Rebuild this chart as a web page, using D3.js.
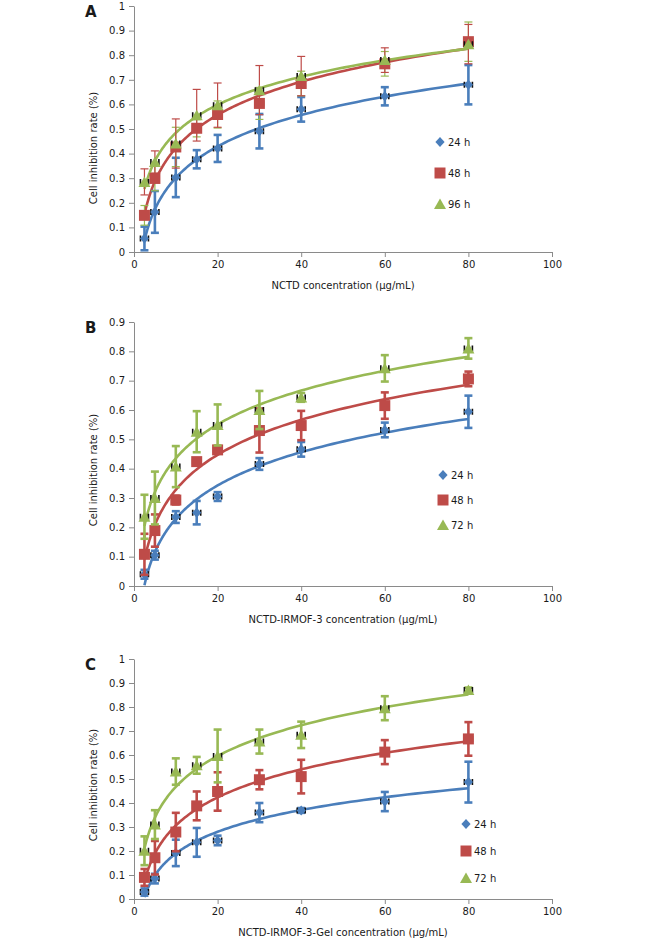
<!DOCTYPE html>
<html lang="en">
<head>
<meta charset="utf-8">
<title>Cell inhibition rate</title>
<script src="https://d3js.org/d3.v7.min.js"></script>
<style>
body { margin: 0; background: #fff; }
text { font-family: "DejaVu Sans", Verdana, sans-serif; fill: #1a1a1a; }
</style>
</head>
<body>
<svg width="661" height="941"></svg>
<script>
// concentrations (ug/mL)
var conc = [2.5, 5, 10, 15, 20, 30, 40, 60, 80];
var xTicks = [0, 20, 40, 60, 80, 100];
var yTicksA = [0, 0.1, 0.2, 0.3, 0.4, 0.5, 0.6, 0.7, 0.8, 0.9, 1];
var yTicksB = [0, 0.1, 0.2, 0.3, 0.4, 0.5, 0.6, 0.7, 0.8, 0.9];
var yTicksC = [0, 0.1, 0.2, 0.3, 0.4, 0.5, 0.6, 0.7, 0.8, 0.9, 1];

// panel A - NCTD
var a24 = [0.055, 0.163, 0.303, 0.377, 0.421, 0.491, 0.58, 0.633, 0.68];
var a24err = [0.048, 0.085, 0.08, 0.037, 0.055, 0.07, 0.05, 0.037, 0.08];
var a48 = [0.149, 0.299, 0.427, 0.503, 0.559, 0.604, 0.685, 0.765, 0.855];
var a48err = [0.04, 0.05, 0.08, 0.035, 0.055, 0.065, 0.05, 0.05, 0.08];
var a96 = [0.285, 0.366, 0.441, 0.556, 0.597, 0.658, 0.715, 0.78, 0.845];
var a96err = [0.053, 0.045, 0.1, 0.105, 0.09, 0.1, 0.08, 0.05, 0.08];

// panel B - NCTD-IRMOF-3
var b24 = [0.04, 0.105, 0.235, 0.25, 0.305, 0.416, 0.466, 0.532, 0.594];
var b24err = [0.015, 0.015, 0.02, 0.04, 0.015, 0.02, 0.025, 0.025, 0.055];
var b48 = [0.108, 0.189, 0.293, 0.424, 0.464, 0.53, 0.547, 0.615, 0.706];
var b48err = [0.07, 0.055, 0.015, 0.01, 0.01, 0.075, 0.05, 0.045, 0.025];
var b72 = [0.236, 0.30, 0.407, 0.526, 0.549, 0.60, 0.643, 0.742, 0.81];
var b72err = [0.075, 0.09, 0.07, 0.07, 0.07, 0.065, 0.015, 0.045, 0.035];

// panel C - NCTD-IRMOF-3-Gel
var c24 = [0.029, 0.085, 0.192, 0.236, 0.244, 0.36, 0.369, 0.406, 0.487];
var c24err = [0.015, 0.02, 0.055, 0.06, 0.02, 0.04, 0.01, 0.04, 0.085];
var c48 = [0.09, 0.172, 0.279, 0.388, 0.448, 0.497, 0.51, 0.612, 0.667];
var c48err = [0.035, 0.07, 0.08, 0.06, 0.08, 0.04, 0.07, 0.05, 0.07];
var c72 = [0.201, 0.31, 0.531, 0.557, 0.596, 0.656, 0.684, 0.795, 0.871];
var c72err = [0.06, 0.06, 0.055, 0.035, 0.11, 0.05, 0.055, 0.05, 0.01];

var blue = "#4a7ebb", red = "#be4b48", green = "#98b954";

var panels = [
  { letter: "A", xTitle: "NCTD concentration (\u03bcg/mL)", yTicks: yTicksA,
    top: 6, bottom: 252, legend: [440, 142, 31], yTitleY: 148,
    series: [
      { name: "24 h", vals: a24, err: a24err, color: blue, errColor: blue, errW: 2.6, shape: "diamond" },
      { name: "48 h", vals: a48, err: a48err, color: red, errColor: green, errW: 1.2, shape: "square" },
      { name: "96 h", vals: a96, err: a96err, color: green, errColor: red, errW: 1.2, shape: "triangle" }
    ] },
  { letter: "B", xTitle: "NCTD-IRMOF-3 concentration (\u03bcg/mL)", yTicks: yTicksB,
    top: 322, bottom: 586, legend: [443, 475, 25], yTitleY: 470,
    series: [
      { name: "24 h", vals: b24, err: b24err, color: blue, errColor: blue, errW: 2.6, shape: "diamond" },
      { name: "48 h", vals: b48, err: b48err, color: red, errColor: red, errW: 2.6, shape: "square" },
      { name: "72 h", vals: b72, err: b72err, color: green, errColor: green, errW: 2.6, shape: "triangle" }
    ] },
  { letter: "C", xTitle: "NCTD-IRMOF-3-Gel concentration (\u03bcg/mL)", yTicks: yTicksC,
    top: 659, bottom: 899, legend: [466, 824, 27], yTitleY: 785,
    series: [
      { name: "24 h", vals: c24, err: c24err, color: blue, errColor: blue, errW: 2.6, shape: "diamond" },
      { name: "48 h", vals: c48, err: c48err, color: red, errColor: red, errW: 2.6, shape: "square" },
      { name: "72 h", vals: c72, err: c72err, color: green, errColor: green, errW: 2.6, shape: "triangle" }
    ] }
];

var shapes = {
  diamond: "M0,-5L4.6,0L0,5L-4.6,0Z",
  square: "M-5.5,-5.5h11v11h-11Z",
  triangle: "M0,-5.5L6,5L-6,5Z"
};

// least squares fit of y = a*ln(x) + b (the excel log trendline)
function logFit(xs, ys) {
  var lx = xs.map(Math.log);
  var mx = d3.mean(lx), my = d3.mean(ys);
  var sxy = d3.sum(lx, (d, i) => (d - mx) * (ys[i] - my));
  var sxx = d3.sum(lx, d => (d - mx) * (d - mx));
  var a = sxy / sxx;
  return x => a * Math.log(x) + my - a * mx;
}

var svg = d3.select("svg");
var x = d3.scaleLinear().domain([0, 100]).range([134, 552]);
var axisColor = "#8a8a8a";

panels.forEach(function(p, pi) {
  var yMax = d3.max(p.yTicks);
  var y = d3.scaleLinear().domain([0, yMax]).range([p.bottom, p.top]);
  var g = svg.append("g");

  g.append("clipPath").attr("id", "clip" + pi)
    .append("rect")
    .attr("x", x(0)).attr("y", p.top)
    .attr("width", x(100) - x(0)).attr("height", p.bottom - p.top);

  var yAxis = g.append("g")
    .attr("transform", "translate(" + x(0) + ",0)")
    .call(d3.axisLeft(y).tickValues(p.yTicks).tickSize(5).tickSizeOuter(0).tickPadding(4)
      .tickFormat(d3.format(".1~f")));
  var xAxis = g.append("g")
    .attr("transform", "translate(0," + p.bottom + ")")
    .call(d3.axisBottom(x).tickValues(xTicks).tickSize(5).tickSizeOuter(0).tickPadding(4));
  [xAxis, yAxis].forEach(function(ax) {
    ax.selectAll("path, line").attr("stroke", axisColor);
    ax.selectAll("text").attr("font-size", 10).attr("font-family", "DejaVu Sans").attr("fill", "#1a1a1a");
  });

  g.append("text")
    .attr("x", 343).attr("y", p.bottom + 37)
    .attr("text-anchor", "middle").attr("font-size", 10)
    .text(p.xTitle);

  g.append("text")
    .attr("transform", "translate(93," + p.yTitleY + ") rotate(-90)")
    .attr("text-anchor", "middle").attr("dy", "0.35em").attr("font-size", 10)
    .text("Cell inhibition rate (%)");

  g.append("text")
    .attr("x", 85).attr("y", p.top + 11)
    .attr("font-size", 15).attr("font-weight", "bold")
    .text(p.letter);

  var line = d3.line().x(d => x(d[0])).y(d => y(d[1]));
  var xs = d3.range(0, 121).map(i => conc[0] * Math.pow(conc[conc.length - 1] / conc[0], i / 120));

  // trend curves
  p.series.forEach(function(s) {
    var f = logFit(conc, s.vals);
    g.append("path")
      .datum(xs.map(v => [v, f(v)]))
      .attr("clip-path", "url(#clip" + pi + ")")
      .attr("fill", "none")
      .attr("stroke", s.color)
      .attr("stroke-width", 2.6)
      .attr("d", line);
  });

  p.series.forEach(function(s) {
    var pts = conc.map((c, i) => ({ c: c, v: s.vals[i], e: s.err[i] }));
    var sg = g.append("g");

    // vertical error bars
    var eb = sg.selectAll(".eb").data(pts).enter().append("g")
      .attr("stroke", s.errColor).attr("stroke-width", s.errW);
    eb.append("line")
      .attr("x1", d => x(d.c)).attr("x2", d => x(d.c))
      .attr("y1", d => y(Math.max(0, d.v - d.e))).attr("y2", d => y(d.v + d.e));
    eb.append("line")
      .attr("x1", d => x(d.c) - 4).attr("x2", d => x(d.c) + 4)
      .attr("y1", d => y(d.v + d.e)).attr("y2", d => y(d.v + d.e));
    eb.filter(d => d.v - d.e > 0).append("line")
      .attr("x1", d => x(d.c) - 4).attr("x2", d => x(d.c) + 4)
      .attr("y1", d => y(d.v - d.e)).attr("y2", d => y(d.v - d.e));

    // small horizontal error caps
    sg.selectAll(".xe").data(pts).enter().append("path")
      .attr("stroke", "#111").attr("stroke-width", 1.6).attr("fill", "none")
      .attr("d", d => "M" + (x(d.c) - 4) + "," + (y(d.v) - 3) + "v6M" + (x(d.c) + 4) + "," + (y(d.v) - 3) + "v6");

    sg.selectAll(".mk").data(pts).enter().append("path")
      .attr("transform", d => "translate(" + x(d.c) + "," + y(d.v) + ")")
      .attr("d", shapes[s.shape])
      .attr("fill", s.color);
  });

  // legend
  var lg = g.append("g").attr("transform", "translate(" + p.legend[0] + "," + p.legend[1] + ")");
  p.series.forEach(function(s, i) {
    lg.append("path")
      .attr("transform", "translate(0," + i * p.legend[2] + ")")
      .attr("d", shapes[s.shape])
      .attr("fill", s.color);
    lg.append("text")
      .attr("x", 8).attr("y", i * p.legend[2])
      .attr("dy", "0.36em").attr("font-size", 10)
      .text(s.name);
  });
});
</script>
</body>
</html>
